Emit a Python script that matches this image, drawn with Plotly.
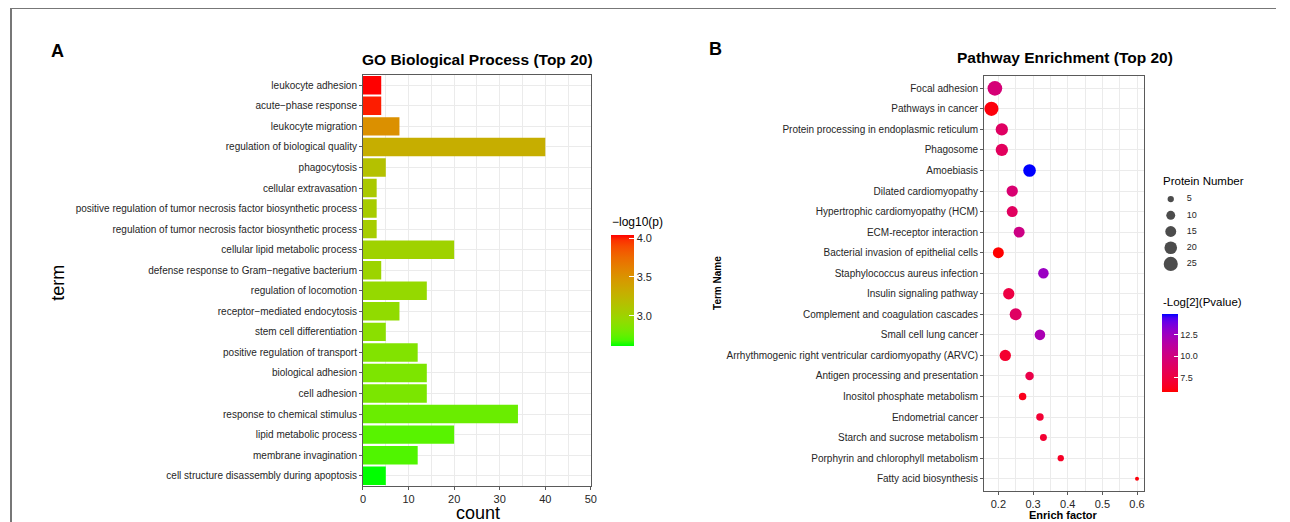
import plotly.graph_objects as go

# The page body has an 8px margin: reference pixel coordinates (x, y) of the
# 1290x522 window are mapped into the figure accordingly.
OX, OY = 8, 8
W, H = 1290 - 2 * OX, 522 - OY

# ---------------- data ----------------
go_terms = [
    "leukocyte adhesion", "acute\u2212phase response", "leukocyte migration",
    "regulation of biological quality", "phagocytosis", "cellular extravasation",
    "positive regulation of tumor necrosis factor biosynthetic process",
    "regulation of tumor necrosis factor biosynthetic process",
    "cellular lipid metabolic process", "defense response to Gram\u2212negative bacterium",
    "regulation of locomotion", "receptor\u2212mediated endocytosis",
    "stem cell differentiation", "positive regulation of transport",
    "biological adhesion", "cell adhesion", "response to chemical stimulus",
    "lipid metabolic process", "membrane invagination",
    "cell structure disassembly during apoptosis",
]
go_count = [4, 4, 8, 40, 5, 3, 3, 3, 20, 4, 14, 8, 5, 12, 14, 14, 34, 20, 12, 5]
go_log10p = [4.04, 4.00, 3.52, 3.30, 3.15, 3.08, 3.06, 3.05, 3.01, 2.99,
             2.95, 2.93, 2.90, 2.86, 2.84, 2.83, 2.77, 2.72, 2.70, 2.61]
go_xticks = [0, 10, 20, 30, 40, 50]
go_cbar_ticks = [3.0, 3.5, 4.0]

pw_terms = [
    "Focal adhesion", "Pathways in cancer", "Protein processing in endoplasmic reticulum",
    "Phagosome", "Amoebiasis", "Dilated cardiomyopathy",
    "Hypertrophic cardiomyopathy (HCM)", "ECM-receptor interaction",
    "Bacterial invasion of epithelial cells", "Staphylococcus aureus infection",
    "Insulin signaling pathway", "Complement and coagulation cascades",
    "Small cell lung cancer", "Arrhythmogenic right ventricular cardiomyopathy (ARVC)",
    "Antigen processing and presentation", "Inositol phosphate metabolism",
    "Endometrial cancer", "Starch and sucrose metabolism",
    "Porphyrin and chlorophyll metabolism", "Fatty acid biosynthesis",
]
pw_enrich = [0.19, 0.18, 0.21, 0.21, 0.29, 0.24, 0.24, 0.26, 0.20, 0.33,
             0.23, 0.25, 0.32, 0.22, 0.29, 0.27, 0.32, 0.33, 0.38, 0.60]
pw_count = [27, 25, 19, 19, 20, 16, 15, 15, 15, 14, 16, 18, 14, 16, 9, 7, 7, 6, 5, 2]
pw_log2p = [9.6, 6.0, 8.8, 8.6, 14.9, 9.4, 8.7, 10.2, 5.8, 12.6,
            7.6, 8.8, 12.0, 6.9, 7.8, 6.3, 7.1, 7.0, 6.6, 6.0]
pw_xticks = [0.2, 0.3, 0.4, 0.5, 0.6]
pw_cbar_ticks = [7.5, 10.0, 12.5]
size_legend = [5, 10, 15, 20, 25]


# ---------------- Lab colour ramp (like ggplot gradients) ----------------
def _lin(c):
    return c / 12.92 if c <= 0.04045 else ((c + 0.055) / 1.055) ** 2.4


def _unlin(c):
    c = max(0.0, min(1.0, c))
    return 12.92 * c if c <= 0.0031308 else 1.055 * c ** (1 / 2.4) - 0.055


WP = (0.95047, 1.0, 1.08883)


def hex2lab(h):
    r, g, b = [_lin(int(h[i:i + 2], 16) / 255) for i in (1, 3, 5)]
    X = 0.4124 * r + 0.3576 * g + 0.1805 * b
    Y = 0.2126 * r + 0.7152 * g + 0.0722 * b
    Z = 0.0193 * r + 0.1192 * g + 0.9505 * b
    def f(t):
        return t ** (1 / 3) if t > 0.008856 else 7.787 * t + 16 / 116
    fx, fy, fz = f(X / WP[0]), f(Y / WP[1]), f(Z / WP[2])
    return 116 * fy - 16, 500 * (fx - fy), 200 * (fy - fz)


def lab2hex(L, a, b):
    fy = (L + 16) / 116
    fx = fy + a / 500
    fz = fy - b / 200
    def finv(t):
        return t ** 3 if t ** 3 > 0.008856 else (t - 16 / 116) / 7.787
    X, Y, Z = finv(fx) * WP[0], finv(fy) * WP[1], finv(fz) * WP[2]
    r = 3.2406 * X - 1.5372 * Y - 0.4986 * Z
    g = -0.9689 * X + 1.8758 * Y + 0.0415 * Z
    bb = 0.0557 * X - 0.2040 * Y + 1.0570 * Z
    return "#%02x%02x%02x" % tuple(int(round(_unlin(c) * 255)) for c in (r, g, bb))


def lab_scale(low, high, n=21):
    l1, l2 = hex2lab(low), hex2lab(high)
    out = []
    for i in range(n):
        t = i / (n - 1)
        out.append([t, lab2hex(*[l1[k] + (l2[k] - l1[k]) * t for k in range(3)])])
    return out


def PX(x):
    return (x - OX) / W


def PY(y):
    return 1 - (y - OY) / H


FONT = "Arial, Liberation Sans, sans-serif"
GRID = "#EBEBEB"
FRAME = "#5a5a5a"
TXT = "#262626"
SIZEREF = 0.25

fig = go.Figure()

# ---------------- Panel A: bars ----------------
fig.add_trace(go.Bar(
    x=go_count, y=go_terms, orientation="h",
    marker=dict(color=go_log10p, coloraxis="coloraxis", line=dict(width=0)),
    xaxis="x", yaxis="y", showlegend=False,
))

# ---------------- Panel B: dots ----------------
fig.add_trace(go.Scatter(
    x=pw_enrich, y=pw_terms, mode="markers",
    marker=dict(size=pw_count, sizemode="area", sizeref=SIZEREF,
                color=pw_log2p, coloraxis="coloraxis2", line=dict(width=0), opacity=1),
    xaxis="x2", yaxis="y2", showlegend=False,
))

# ---------------- size legend (own small axes) ----------------
fig.add_trace(go.Scatter(
    x=[0.2] * len(size_legend), y=list(range(len(size_legend))), mode="markers",
    marker=dict(size=size_legend, sizemode="area", sizeref=SIZEREF, color="black",
                line=dict(width=0)),
    xaxis="x3", yaxis="y3", showlegend=False, hoverinfo="skip",
))
fig.add_trace(go.Scatter(
    x=[0.43] * len(size_legend), y=list(range(len(size_legend))), mode="text",
    text=[str(v) for v in size_legend], textposition="middle right",
    textfont=dict(family=FONT, size=9, color=TXT),
    xaxis="x3", yaxis="y3", showlegend=False, hoverinfo="skip",
))

axis_common = dict(showline=True, mirror=True, linecolor=FRAME, linewidth=1,
                   gridcolor=GRID, gridwidth=1, zeroline=False,
                   ticks="outside", ticklen=3, tickcolor=FRAME, tickwidth=1)

fig.update_layout(
    width=W, height=H, margin=dict(l=0, r=0, t=0, b=0),
    paper_bgcolor="white", plot_bgcolor="white",
    font=dict(family=FONT, color=TXT),
    bargap=0.1,
    xaxis=dict(domain=[PX(362.5), PX(592)], anchor="y", range=[0, 50],
               tickvals=go_xticks, tickfont=dict(size=11, color=TXT),
               minor=dict(dtick=5, tick0=0, showgrid=True, gridcolor=GRID, gridwidth=0.6),
               **axis_common),
    yaxis=dict(domain=[PY(486), PY(75)], anchor="x",
               type="category", categoryorder="array", categoryarray=go_terms,
               range=[19.5, -0.5], tickfont=dict(size=10, color=TXT),
               **axis_common),
    xaxis2=dict(domain=[PX(988), PX(1149)], anchor="y2", range=[0.1588, 0.620],
                tickvals=pw_xticks, tickformat=".1f", tickfont=dict(size=11, color=TXT),
                minor=dict(dtick=0.05, tick0=0.15, showgrid=True, gridcolor=GRID, gridwidth=0.6),
                **axis_common),
    yaxis2=dict(domain=[PY(491), PY(76)], anchor="x2",
                type="category", categoryorder="array", categoryarray=pw_terms,
                range=[19.6, -0.6], tickfont=dict(size=10, color=TXT),
                **axis_common),
    xaxis3=dict(domain=[PX(1162), PX(1232)], anchor="y3", range=[0, 1], visible=False),
    yaxis3=dict(domain=[PY(272), PY(191)], anchor="x3", range=[4.5, -0.5], visible=False),
    coloraxis=dict(
        colorscale=lab_scale("#00FF00", "#FF0000"),
        colorbar=dict(x=PX(612.5), xanchor="left", xpad=0, ypad=0,
                      y=PY(235), yanchor="top", len=111, lenmode="pixels",
                      thickness=23, outlinewidth=0,
                      tickvals=go_cbar_ticks, ticktext=["%.1f" % v for v in go_cbar_ticks],
                      ticks="inside", ticklen=5, tickcolor="white", tickwidth=1,
                      tickfont=dict(size=11, color=TXT)),
    ),
    coloraxis2=dict(
        colorscale=lab_scale("#FF0000", "#0000FF"),
        colorbar=dict(x=PX(1167), xanchor="left", xpad=0, ypad=0,
                      y=PY(314), yanchor="top", len=78, lenmode="pixels",
                      thickness=16, outlinewidth=0,
                      tickvals=pw_cbar_ticks, ticktext=["%.1f" % v for v in pw_cbar_ticks],
                      ticks="inside", ticklen=4, tickcolor="white", tickwidth=1,
                      tickfont=dict(size=9, color=TXT)),
    ),
)


def ann(text, x, y, size, bold=False, xanchor="center", angle=0, color="black"):
    fig.add_annotation(text=("<b>%s</b>" % text) if bold else text,
                       x=PX(x), y=PY(y), xref="paper", yref="paper",
                       xanchor=xanchor, yanchor="middle", showarrow=False,
                       textangle=angle, font=dict(family=FONT, size=size, color=color))


ann("A", 55, 51, 18, bold=True)
ann("B", 718, 49, 18, bold=True)
ann("GO Biological Process (Top 20)", 478, 60, 15.5, bold=True)
ann("Pathway Enrichment (Top 20)", 1070, 58, 15.5, bold=True)
ann("term", 55, 283, 18, angle=-90)
ann("count", 478, 513, 18)
ann("Term Name", 719, 283, 10, bold=True, angle=-90)
ann("Enrich factor", 1068, 515, 11, bold=True)
ann("\u2212log10(p)", 611, 222, 12, xanchor="left")
ann("Protein Number", 1166, 181, 11.5, xanchor="left")
ann("-Log[2](Pvalue)", 1166, 302, 11.5, xanchor="left")

# outer frame of the figure (top and left edges)
fig.add_shape(type="line", xref="paper", yref="paper", x0=0, y0=1, x1=1, y1=1,
              line=dict(color="#777", width=2))
fig.add_shape(type="line", xref="paper", yref="paper", x0=0, y0=1, x1=0, y1=0,
              line=dict(color="#777", width=2))

fig.write_html("out.html", config={"displayModeBar": False})
